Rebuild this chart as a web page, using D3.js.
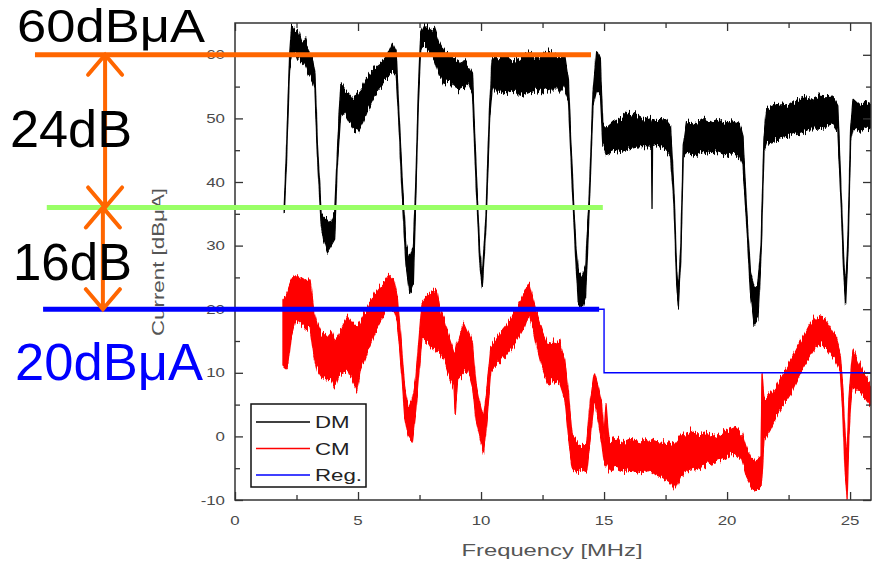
<!DOCTYPE html>
<html>
<head>
<meta charset="utf-8">
<script src="https://cdn.jsdelivr.net/npm/d3@7"></script>
<style>
  html, body { margin: 0; padding: 0; background: #fff; }
  svg { display: block; font-family: "Liberation Sans", Arial, sans-serif; }
</style>
</head>
<body>
<svg id="chart" width="874" height="569"></svg>
<script>
// ---- Measured spectra: noise band of each trace as (frequency, lower edge, upper edge) ----
const dmFreq = [2.00, 2.10, 2.22, 2.30, 2.45, 2.55, 2.70, 2.85, 3.00, 3.15, 3.25, 3.35, 3.50, 3.60, 3.75, 3.90, 4.05, 4.15, 4.30, 4.45,
  4.60, 4.80, 5.00, 5.20, 5.40, 5.60, 5.80, 6.00, 6.20, 6.40, 6.55, 6.65, 6.80, 6.95, 7.10, 7.25, 7.35, 7.45, 7.55, 7.70,
  7.90, 8.10, 8.30, 8.50, 8.70, 8.90, 9.10, 9.30, 9.50, 9.65, 9.80, 9.95, 10.05, 10.20, 10.35, 10.45, 10.70, 11.00, 11.30, 11.60,
  11.90, 12.20, 12.50, 12.80, 13.10, 13.40, 13.55, 13.70, 13.85, 13.95, 14.10, 14.25, 14.40, 14.55, 14.70, 14.85, 14.95, 15.10, 15.40, 15.70,
  16.00, 16.30, 16.60, 16.90, 16.93, 16.95, 16.97, 17.20, 17.50, 17.70, 17.85, 17.95, 18.02, 18.12, 18.22, 18.35, 18.70, 19.00, 19.30, 19.60,
  19.90, 20.20, 20.50, 20.65, 20.80, 20.95, 21.10, 21.25, 21.38, 21.50, 21.60, 21.90, 22.20, 22.50, 22.80, 23.10, 23.40, 23.70, 24.00, 24.30,
  24.50, 24.62, 24.75, 24.82, 24.92, 25.02, 25.12, 25.40, 25.65, 25.90];
const dmLow = [35.0, 44.0, 58.0, 60.0, 60.5, 59.5, 59.0, 58.5, 57.0, 56.0, 54.5, 44.0, 33.5, 31.0, 29.0, 30.0, 31.0, 42.0, 51.0, 51.0,
  50.0, 48.5, 48.0, 49.5, 51.5, 53.0, 54.5, 55.5, 56.5, 57.5, 57.0, 50.0, 38.0, 27.0, 22.5, 24.0, 38.0, 52.0, 61.0, 61.5,
  60.5, 59.5, 57.0, 55.5, 56.0, 55.0, 54.5, 55.0, 55.5, 54.0, 40.0, 27.0, 23.5, 33.0, 50.0, 54.5, 54.5, 54.0, 54.5, 53.5,
  54.0, 54.5, 54.0, 54.5, 54.5, 54.5, 53.0, 40.0, 28.0, 21.0, 20.2, 22.0, 36.0, 52.0, 54.5, 54.0, 46.0, 44.5, 45.0, 44.8,
  45.2, 45.5, 45.6, 45.5, 45.4, 36.0, 45.4, 45.8, 45.3, 44.2, 36.0, 24.0, 20.5, 28.0, 44.0, 44.5, 44.2, 44.8, 44.5, 44.8,
  44.3, 44.6, 44.0, 42.5, 33.0, 22.5, 17.5, 18.5, 28.0, 45.0, 46.2, 46.6, 47.0, 47.2, 47.6, 48.0, 48.4, 48.3, 48.8, 49.2,
  48.0, 38.0, 25.0, 21.0, 30.0, 46.0, 48.5, 48.0, 48.5, 48.3];
const dmHigh = [36.0, 46.0, 60.0, 64.5, 63.5, 64.0, 62.0, 62.5, 60.5, 59.5, 57.0, 46.0, 35.0, 34.5, 34.0, 33.5, 35.0, 44.0, 55.5, 54.5,
  54.0, 53.0, 54.0, 55.0, 56.5, 57.5, 58.5, 59.0, 60.0, 61.8, 60.5, 52.0, 40.0, 30.0, 28.0, 30.0, 40.0, 54.0, 63.5, 64.8,
  64.0, 64.3, 62.0, 60.5, 60.0, 59.5, 59.0, 59.0, 58.0, 57.0, 42.0, 29.0, 25.0, 35.0, 52.0, 59.5, 59.5, 60.0, 59.0, 59.5,
  60.5, 59.5, 60.0, 60.5, 59.5, 60.0, 56.0, 42.0, 30.0, 26.0, 25.0, 26.5, 38.0, 54.0, 60.5, 59.0, 49.0, 48.5, 49.5, 50.0,
  50.8, 50.5, 49.8, 50.3, 49.9, 49.8, 49.8, 49.6, 49.8, 48.8, 38.0, 26.0, 22.5, 30.0, 46.0, 49.5, 49.0, 49.8, 49.3, 49.8,
  49.2, 49.6, 49.2, 47.0, 35.0, 26.0, 23.5, 24.0, 30.0, 47.0, 51.5, 52.0, 52.3, 52.0, 52.8, 53.3, 53.0, 53.5, 53.4, 53.5,
  52.0, 40.0, 27.0, 23.0, 32.0, 48.0, 53.0, 52.0, 52.6, 52.2];

const cmFreq = [1.95, 2.05, 2.15, 2.30, 2.45, 2.60, 2.75, 2.90, 3.05, 3.20, 3.35, 3.50, 3.70, 3.90, 4.05, 4.20, 4.40, 4.60, 4.75, 4.95,
  5.10, 5.30, 5.50, 5.70, 5.90, 6.10, 6.25, 6.45, 6.60, 6.75, 6.90, 7.05, 7.20, 7.35, 7.45, 7.60, 7.80, 7.95, 8.20, 8.35,
  8.50, 8.70, 8.90, 8.95, 9.05, 9.30, 9.50, 9.65, 9.80, 9.95, 10.10, 10.25, 10.40, 10.70, 11.00, 11.25, 11.50, 11.75, 11.95, 12.15,
  12.30, 12.50, 12.70, 12.95, 13.20, 13.40, 13.55, 13.70, 13.90, 14.10, 14.30, 14.45, 14.60, 14.75, 14.90, 15.00, 15.08, 15.20, 15.50, 15.80,
  16.10, 16.50, 16.80, 17.10, 17.40, 17.70, 17.90, 18.10, 18.30, 18.50, 18.80, 19.10, 19.50, 19.90, 20.30, 20.60, 20.80, 21.00, 21.20, 21.38,
  21.42, 21.50, 21.75, 22.00, 22.30, 22.60, 22.85, 23.10, 23.35, 23.60, 23.80, 24.00, 24.20, 24.40, 24.60, 24.70, 24.80, 24.88, 24.95, 25.05,
  25.12, 25.30, 25.50, 25.70, 25.90];
const cmLow = [10.9, 10.5, 11.0, 16.0, 18.3, 18.0, 17.5, 17.0, 17.2, 13.0, 10.4, 9.5, 8.9, 9.0, 7.8, 9.5, 10.0, 10.4, 9.0, 7.3,
  10.5, 12.5, 14.7, 16.5, 18.0, 19.5, 20.4, 19.9, 18.0, 11.0, 3.0, -0.1, -0.9, 4.0, 9.0, 15.6, 15.0, 14.1, 13.5, 13.0,
  12.0, 9.5, 7.8, 3.4, 9.0, 10.0, 10.2, 8.0, 2.5, 0.0, -2.6, 3.0, 10.4, 11.5, 12.5, 13.8, 15.2, 17.0, 19.4, 16.5,
  13.6, 10.5, 8.4, 9.0, 8.4, 6.0, 0.0, -5.0, -5.6, -5.2, -5.6, 0.0, 5.7, 3.0, -1.0, -4.0, -4.5, -5.3, -5.0, -5.5,
  -5.3, -5.7, -5.2, -6.0, -6.5, -7.2, -8.4, -6.5, -5.5, -5.3, -5.0, -4.6, -4.2, -3.5, -2.6, -3.7, -6.5, -8.0, -8.4, -8.0,
  -6.0, -0.6, 1.0, 3.1, 5.0, 6.8, 9.0, 10.9, 12.5, 14.1, 14.5, 14.1, 13.0, 12.0, 10.4, 4.0, -6.0, -10.0, 0.0, 6.5,
  7.8, 7.0, 6.8, 5.5, 4.6];
const cmHigh = [21.5, 22.0, 23.0, 24.5, 25.4, 24.8, 25.0, 24.5, 24.6, 20.0, 17.5, 16.2, 15.6, 16.5, 15.0, 15.8, 17.5, 18.8, 18.0, 17.2,
  18.0, 19.5, 21.0, 22.5, 23.5, 24.5, 25.3, 24.6, 22.0, 15.0, 7.5, 4.2, 5.7, 9.0, 14.0, 21.0, 22.0, 22.6, 23.0, 19.5,
  18.3, 15.5, 13.1, 13.0, 15.0, 17.8, 16.0, 14.5, 8.0, 5.0, 2.6, 8.0, 14.1, 15.8, 17.2, 18.8, 20.4, 22.5, 24.1, 21.0,
  18.8, 16.5, 14.7, 15.0, 14.7, 12.0, 6.8, 0.0, -1.0, -1.5, -1.0, 6.0, 10.0, 8.0, 5.3, 0.0, 5.3, -0.6, -0.3, -1.0,
  -0.5, -0.9, -0.4, -0.8, -1.0, -1.3, -1.0, 0.0, 0.3, 1.0, 0.2, 0.5, 0.0, 0.8, 1.5, 0.5, -2.0, -3.7, -3.5, -3.0,
  10.0, 5.7, 6.5, 7.8, 10.0, 12.0, 14.0, 15.6, 17.5, 18.8, 18.6, 18.3, 17.0, 15.6, 13.1, 8.0, 0.0, -3.7, 6.0, 11.0,
  13.6, 12.0, 10.4, 9.0, 7.8];

// Regulation limit (step after each listed frequency)
const regFreq = [0, 15, 25.85];
const regLimit = [20, 10, 10];

// Axis ticks
const xMajorTicks = [0, 5, 10, 15, 20, 25];
const xMinorTicks = [2.5, 7.5, 12.5, 17.5, 22.5];
const yMajorTicks = [-10, 0, 10, 20, 30, 40, 50, 60];
const yMinorTicks = [-5, 5, 15, 25, 35, 45, 55];

// Margin annotations: levels, spans (in MHz on the same axis) and labels
const annoLevels = [60, 36, 20];
const annoColors = ["#ff6600", "#99ff66", "#0000ff"];
const annoStart = [-8.13, -7.65, -7.8];
const annoEnd = [14.47, 14.95, 14.8];
const arrowFreq = [-5.28, -5.37];
const arrowFrom = [60, 36];
const arrowTo = [36, 20];
const annoTexts = ["60dBμA", "24dB", "16dB", "20dBμA"];
const annoTextColors = ["#000", "#000", "#000", "#0000ff"];

const legendNames = ["DM", "CM", "Reg."];
const legendColors = ["#000000", "#ff0000", "#0000ff"];

// ---- Layout ----
const svg = d3.select("#chart");
const plot = { left: 235, right: 871, top: 23, bottom: 500 };
const x = d3.scaleLinear().domain([0, 25.85]).range([plot.left, plot.right]);
const y = d3.scaleLinear().domain([-10, 65]).range([plot.bottom, plot.top]);

const defs = svg.append("defs");
defs.append("clipPath").attr("id", "plotClip")
  .append("rect").attr("x", plot.left).attr("y", plot.top)
  .attr("width", plot.right - plot.left).attr("height", plot.bottom - plot.top);

// Roughens band edges vertically so the traces read as noisy measurements
const rough = defs.append("filter").attr("id", "rough")
  .attr("x", "-2%").attr("y", "-5%").attr("width", "104%").attr("height", "110%")
  .attr("color-interpolation-filters", "sRGB");
rough.append("feTurbulence").attr("type", "fractalNoise")
  .attr("baseFrequency", "0.7 0.04").attr("numOctaves", 2).attr("seed", 3).attr("result", "noise");
rough.append("feColorMatrix").attr("in", "noise").attr("type", "matrix")
  .attr("values", "0 0 0 0 0.5  0 1 0 0 0  0 0 1 0 0  0 0 0 0 1").attr("result", "vnoise");
rough.append("feDisplacementMap").attr("in", "SourceGraphic").attr("in2", "vnoise")
  .attr("scale", 14).attr("xChannelSelector", "R").attr("yChannelSelector", "G");

const fontStretch = 1.35;
function stretchedText(g, px, py, str, size, anchor, color) {
  return g.append("text")
    .attr("transform", `translate(${px},${py}) scale(${fontStretch},1)`)
    .attr("text-anchor", anchor)
    .attr("font-size", size)
    .attr("fill", color)
    .text(str);
}

// ---- Traces ----
const traces = svg.append("g").attr("clip-path", "url(#plotClip)");
function band(freq, lo, hi, color, width) {
  const pts = freq.map((f, i) => ({ f, lo: lo[i], hi: hi[i] }));
  const area = d3.area().x(d => x(d.f)).y0(d => y(d.lo)).y1(d => y(d.hi));
  traces.append("g").attr("filter", "url(#rough)")
    .append("path").datum(pts).attr("d", area)
    .attr("fill", color).attr("stroke", color)
    .attr("stroke-width", width).attr("stroke-linejoin", "round");
}
band(dmFreq, dmLow, dmHigh, "#000000", 1.3);
band(cmFreq, cmLow, cmHigh, "#ff0000", 1.3);

const regPts = regFreq.map((f, i) => ({ f, v: regLimit[i] }));
traces.append("path").datum(regPts)
  .attr("d", d3.line().x(d => x(d.f)).y(d => y(d.v)).curve(d3.curveStepAfter))
  .attr("fill", "none").attr("stroke", "#0000ff").attr("stroke-width", 1.4);

// ---- Axes (ticks inside on all four sides) ----
const axisColor = "#333";
function addAxis(axisFn, ticks, size, tx, ty) {
  const g = svg.append("g").attr("transform", `translate(${tx},${ty})`)
    .call(axisFn.tickValues(ticks).tickSizeInner(-size).tickSizeOuter(0).tickFormat(""));
  g.select(".domain").remove();
  g.selectAll(".tick line").attr("stroke", axisColor).attr("stroke-width", 1.3);
}
addAxis(d3.axisBottom(x), xMajorTicks, 8, 0, plot.bottom);
addAxis(d3.axisBottom(x), xMinorTicks, 5, 0, plot.bottom);
addAxis(d3.axisTop(x), xMajorTicks, 8, 0, plot.top);
addAxis(d3.axisTop(x), xMinorTicks, 5, 0, plot.top);
addAxis(d3.axisLeft(y), yMajorTicks, 8, plot.left, 0);
addAxis(d3.axisLeft(y), yMinorTicks, 5, plot.left, 0);
addAxis(d3.axisRight(y), yMajorTicks, 8, plot.right, 0);
addAxis(d3.axisRight(y), yMinorTicks, 5, plot.right, 0);

svg.append("rect").attr("x", plot.left).attr("y", plot.top)
  .attr("width", plot.right - plot.left).attr("height", plot.bottom - plot.top)
  .attr("fill", "none").attr("stroke", axisColor).attr("stroke-width", 1.5);

const labels = svg.append("g");
const tickColor = "#4a4a4a";
yMajorTicks.forEach(v => stretchedText(labels, plot.left - 10, y(v) + 4.5, String(v), 12.5, "end", tickColor));
xMajorTicks.forEach(v => stretchedText(labels, x(v), 525, String(v), 12.5, "middle", tickColor));

labels.append("text").attr("x", 552).attr("y", 556)
  .attr("text-anchor", "middle").attr("font-size", 16).attr("fill", "#555")
  .attr("textLength", 181).attr("lengthAdjust", "spacingAndGlyphs")
  .text("Frequency [MHz]");
labels.append("text").attr("transform", `translate(164,262) rotate(-90)`)
  .attr("text-anchor", "middle").attr("font-size", 16).attr("fill", "#555")
  .attr("textLength", 148).attr("lengthAdjust", "spacingAndGlyphs")
  .text("Current [dBμA]");

// ---- Legend ----
const legend = svg.append("g");
legend.append("rect").attr("x", 251).attr("y", 404).attr("width", 115).attr("height", 83)
  .attr("fill", "#fff").attr("stroke", "#111").attr("stroke-width", 1.5);
legendNames.forEach((name, i) => {
  const ly = 422 + i * 26.5;
  legend.append("line").attr("x1", 256).attr("x2", 310).attr("y1", ly).attr("y2", ly)
    .attr("stroke", legendColors[i]).attr("stroke-width", 1.6);
  stretchedText(legend, 315, ly + 6, name, 16.5, "start", "#222");
});

// ---- Margin annotations: limit levels, dB gaps ----
const anno = svg.append("g");
annoLevels.forEach((lv, i) => {
  anno.append("line")
    .attr("x1", x(annoStart[i])).attr("x2", x(annoEnd[i]))
    .attr("y1", y(lv)).attr("y2", y(lv))
    .attr("stroke", annoColors[i]).attr("stroke-width", 5);
});
arrowFreq.forEach((f, i) => {
  const ax = x(f), y1 = y(arrowFrom[i]), y2 = y(arrowTo[i]);
  const hw = 17, hl = 20;
  const p = d3.path();
  p.moveTo(ax, y1); p.lineTo(ax, y2);
  p.moveTo(ax - hw, y1 + hl); p.lineTo(ax, y1); p.lineTo(ax + hw, y1 + hl);
  p.moveTo(ax - hw, y2 - hl); p.lineTo(ax, y2); p.lineTo(ax + hw, y2 - hl);
  anno.append("path").attr("d", p.toString())
    .attr("fill", "none").attr("stroke", "#ff6600").attr("stroke-width", 4)
    .attr("stroke-linejoin", "miter").attr("stroke-linecap", "round");
});
// [x, baseline, font size, drawn width]
const annoTextPos = [[17, 41.8, 46, 188], [10, 147, 52, 122], [13, 280, 52, 119], [15, 380, 52, 188]];
annoTexts.forEach((t, i) => {
  const [tx, ty, fs, tw] = annoTextPos[i];
  anno.append("text").attr("x", tx).attr("y", ty)
    .attr("font-size", fs).attr("fill", annoTextColors[i])
    .attr("textLength", tw).attr("lengthAdjust", "spacingAndGlyphs")
    .text(t);
});
</script>
</body>
</html>
